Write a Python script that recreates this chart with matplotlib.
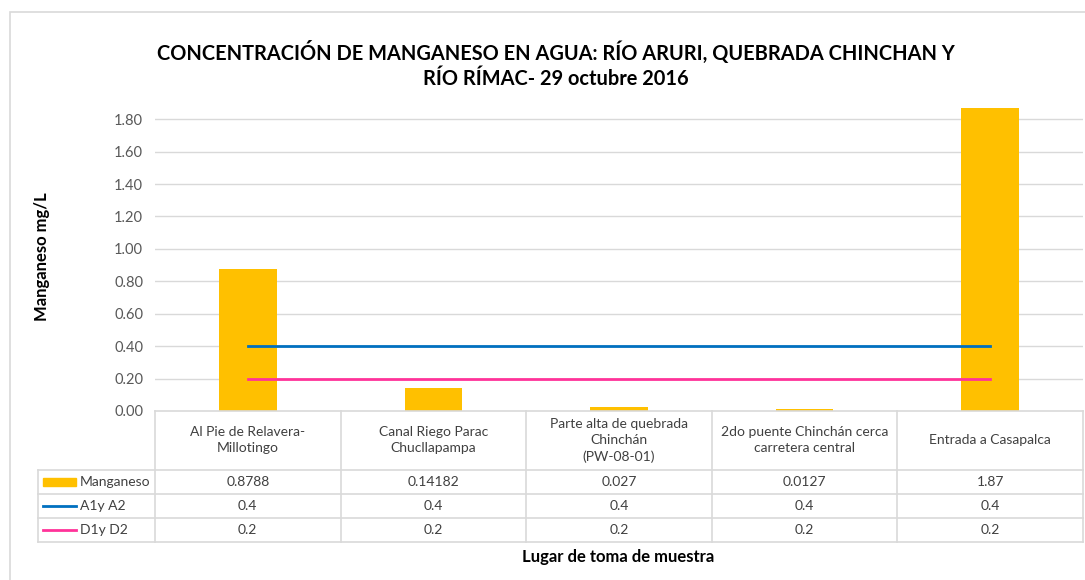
import matplotlib.pyplot as plt
from matplotlib.patches import Rectangle
from matplotlib.lines import Line2D
import numpy as np

# Data
categories = ['Al Pie de Relavera-\nMillotingo', 'Canal Riego Parac\nChucllapampa',
              'Parte alta de quebrada\nChinchán\n(PW-08-01)', '2do puente Chinchán cerca\ncarretera central',
              'Entrada a Casapalca']
manganeso = [0.8788, 0.14182, 0.027, 0.0127, 1.87]
a1_a2 = [0.4, 0.4, 0.4, 0.4, 0.4]
d1_d2 = [0.2, 0.2, 0.2, 0.2, 0.2]
series_names = ['Manganeso', 'A1y A2', 'D1y D2']
yticks = [0.0, 0.2, 0.4, 0.6, 0.8, 1.0, 1.2, 1.4, 1.6, 1.8]

plt.rcParams['font.family'] = ['Lato', 'DejaVu Sans']

W, H = 1085, 580
fig = plt.figure(figsize=(W / 100, H / 100), dpi=100)

def fx(px):
    return px / W

def fy(py):
    return 1 - py / H

# chart border
fig.patches.append(Rectangle((fx(10), fy(700)), fx(1200), fy(12) - fy(700), transform=fig.transFigure,
                             fill=False, edgecolor='#D9D9D9', linewidth=1.2))

left, right, top, bottom = 155, 1083, 103, 411
ax = fig.add_axes([fx(left), fy(bottom), fx(right - left), fy(top) - fy(bottom)])

x = np.arange(len(categories))
ax.bar(x, manganeso, width=0.31, color='#FFC000', zorder=2)
ax.plot(x, a1_a2, color='#0070C0', linewidth=2, zorder=3)
ax.plot(x, d1_d2, color='#FF3399', linewidth=2, zorder=3)

ax.set_xlim(-0.5, len(categories) - 0.5)
ax.set_ylim(0, 1.9)
ax.set_yticks(yticks)
ax.set_yticklabels([f'{v:.2f}' for v in yticks], fontsize=10.5, color='#595959')
ax.tick_params(axis='y', length=0, pad=8.5)
ax.set_xticks([])
for y in yticks[1:]:
    ax.axhline(y, color='#D9D9D9', linewidth=1, zorder=1)
for s in ax.spines.values():
    s.set_visible(False)

# axis titles
fig.text(fx(42), fy(257), 'Manganeso mg/L', rotation=90, ha='center', va='center',
         fontsize=12, fontweight='bold')
fig.text(fx(618), fy(557), 'Lugar de toma de muestra', ha='center', va='center',
         fontsize=12, fontweight='bold')

# Title
fig.text(fx(556), fy(52), 'CONCENTRACIÓN DE MANGANESO EN AGUA: RÍO ARURI, QUEBRADA CHINCHAN Y',
         ha='center', va='center', fontsize=14.4, fontweight='bold')
fig.text(fx(556), fy(79), 'RÍO RÍMAC- 29 octubre 2016',
         ha='center', va='center', fontsize=14.4, fontweight='bold')

# Data table
grid_c = '#D9D9D9'
txt_c = '#404040'
cat_w = (right - left) / len(categories)
row_y = [411, 470, 494, 518, 542]
leg_left = 38

def hline(x0, x1, y):
    fig.lines.append(Line2D([fx(x0), fx(x1)], [fy(y), fy(y)], transform=fig.transFigure,
                            color=grid_c, linewidth=1.2))

def vline(xp, y0, y1):
    fig.lines.append(Line2D([fx(xp), fx(xp)], [fy(y0), fy(y1)], transform=fig.transFigure,
                            color=grid_c, linewidth=1.2))

hline(left, right, row_y[0])
for ry in row_y[1:]:
    hline(leg_left, right, ry)
vline(leg_left, row_y[1], row_y[-1])
for i in range(len(categories) + 1):
    vline(left + i * cat_w, row_y[0], row_y[-1])

for i, cat in enumerate(categories):
    cx = left + (i + 0.5) * cat_w
    fig.text(fx(cx), fy((row_y[0] + row_y[1]) / 2), cat, ha='center', va='center',
             fontsize=10, color=txt_c, linespacing=1.4)
    for r, vals in enumerate([manganeso, a1_a2, d1_d2]):
        cy = (row_y[r + 1] + row_y[r + 2]) / 2
        fig.text(fx(cx), fy(cy), str(vals[i]), ha='center', va='center', fontsize=10, color=txt_c)

# legend keys
for r, name in enumerate(series_names):
    cy = (row_y[r + 1] + row_y[r + 2]) / 2
    if r == 0:
        fig.patches.append(Rectangle((fx(43), fy(cy + 3.5)), fx(33), fy(cy - 3.5) - fy(cy + 3.5),
                                     transform=fig.transFigure, color='#FFC000'))
    else:
        col = '#0070C0' if r == 1 else '#FF3399'
        fig.lines.append(Line2D([fx(43), fx(76)], [fy(cy), fy(cy)], transform=fig.transFigure,
                                color=col, linewidth=2))
    fig.text(fx(80), fy(cy), name, ha='left', va='center', fontsize=10, color=txt_c)

plt.savefig('out.png', dpi=100)
